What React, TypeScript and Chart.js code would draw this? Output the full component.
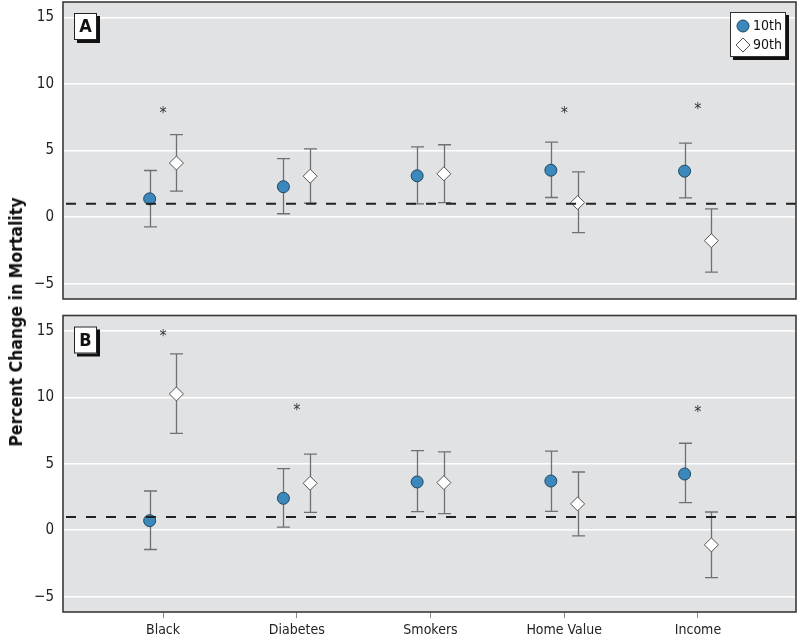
import React, { useEffect, useRef } from "react";
import { Chart, registerables } from "chart.js";

Chart.register(...registerables);

// ---------------- data ----------------
const CATEGORIES = ["Black", "Diabetes", "Smokers", "Home Value", "Income"];
const Y_TICKS = [-5, 0, 5, 10, 15];
const REF_LINE = 1;
const SERIES_NAMES = ["10th", "90th"];

// Panel A
const A_P10 = [1.37, 2.28, 3.1, 3.52, 3.45];
const A_P10_LO = [-0.74, 0.25, 0.99, 1.47, 1.45];
const A_P10_HI = [3.5, 4.39, 5.27, 5.63, 5.56];
const A_P90 = [4.06, 3.07, 3.25, 1.09, -1.77];
const A_P90_LO = [1.95, 1.04, 1.09, -1.17, -4.13];
const A_P90_HI = [6.19, 5.12, 5.43, 3.4, 0.61];
const A_STARS: (number | null)[] = [7.86, null, null, 7.86, 8.2];

// Panel B
const B_P10 = [0.72, 2.4, 3.63, 3.7, 4.23];
const B_P10_LO = [-1.45, 0.23, 1.4, 1.42, 2.07];
const B_P10_HI = [2.95, 4.63, 5.98, 5.95, 6.54];
const B_P90 = [10.25, 3.53, 3.58, 1.98, -1.1];
const B_P90_LO = [7.29, 1.35, 1.25, -0.43, -3.56];
const B_P90_HI = [13.26, 5.73, 5.9, 4.38, 1.37];
const B_STARS: (number | null)[] = [14.7, 9.1, null, null, 9.0];

// ---------------- style ----------------
const FONT = '"DejaVu Sans Condensed", "Liberation Sans Narrow", "Arial Narrow", sans-serif';
const X_MIN = 0.252;
const X_MAX = 5.733;
const Y_MIN = -6.15;
const Y_MAX = 16.15;
const OFFSET = 0.1;
const BLUE = "#3b88bd";
const BLUE_BORDER = "#24475f";
const BG = "#e1e2e4";

type PanelProps = {
  label: string;
  p10: number[];
  p10lo: number[];
  p10hi: number[];
  p90: number[];
  p90lo: number[];
  p90hi: number[];
  stars: (number | null)[];
  showX: boolean;
  showLegend: boolean;
  top: number;
  height: number;
  padTop: number;
  padBottom: number;
};

function drawCircle(ctx: CanvasRenderingContext2D, x: number, y: number, r: number) {
  ctx.beginPath();
  ctx.arc(x, y, r, 0, Math.PI * 2);
  ctx.fillStyle = BLUE;
  ctx.fill();
  ctx.strokeStyle = BLUE_BORDER;
  ctx.lineWidth = 1;
  ctx.stroke();
}

function drawDiamond(ctx: CanvasRenderingContext2D, x: number, y: number, r: number) {
  ctx.beginPath();
  ctx.moveTo(x - r, y);
  ctx.lineTo(x, y - r);
  ctx.lineTo(x + r, y);
  ctx.lineTo(x, y + r);
  ctx.closePath();
  ctx.fillStyle = "#ffffff";
  ctx.fill();
  ctx.strokeStyle = "#555";
  ctx.lineWidth = 1;
  ctx.stroke();
}

function makePlugin(p: PanelProps) {
  return {
    id: "panelDeco",
    beforeDraw(chart: any) {
      const { ctx, chartArea: a } = chart;
      ctx.save();
      ctx.fillStyle = BG;
      ctx.fillRect(a.left, a.top, a.right - a.left, a.bottom - a.top);
      ctx.restore();
    },
    beforeDatasetsDraw(chart: any) {
      const { ctx } = chart;
      const xs = chart.scales.x;
      const ys = chart.scales.y;
      ctx.save();
      ctx.strokeStyle = "#707070";
      ctx.lineWidth = 1.3;
      const groups = [
        { off: -OFFSET, lo: p.p10lo, hi: p.p10hi },
        { off: OFFSET, lo: p.p90lo, hi: p.p90hi },
      ];
      groups.forEach((g) => {
        CATEGORIES.forEach((_, i) => {
          const x = Math.round(xs.getPixelForValue(i + 1 + g.off)) + 0.5;
          const y1 = ys.getPixelForValue(g.lo[i]);
          const y2 = ys.getPixelForValue(g.hi[i]);
          ctx.beginPath();
          ctx.moveTo(x, y1);
          ctx.lineTo(x, y2);
          ctx.moveTo(x - 6.5, y1);
          ctx.lineTo(x + 6.5, y1);
          ctx.moveTo(x - 6.5, y2);
          ctx.lineTo(x + 6.5, y2);
          ctx.stroke();
        });
      });
      ctx.restore();
    },
    afterDatasetsDraw(chart: any) {
      const { ctx, chartArea: a } = chart;
      const xs = chart.scales.x;
      const ys = chart.scales.y;
      ctx.save();
      // reference dashed line
      const yr = ys.getPixelForValue(REF_LINE);
      ctx.strokeStyle = "#222";
      ctx.lineWidth = 2;
      ctx.setLineDash([10, 10]);
      ctx.beginPath();
      ctx.moveTo(a.left + 3, yr);
      ctx.lineTo(a.right, yr);
      ctx.stroke();
      ctx.setLineDash([]);

      // significance stars
      ctx.fillStyle = "#333";
      ctx.font = `16px ${FONT}`;
      ctx.textAlign = "center";
      ctx.textBaseline = "alphabetic";
      p.stars.forEach((s, i) => {
        if (s == null) return;
        const x = xs.getPixelForValue(i + 1);
        const y = ys.getPixelForValue(s);
        ctx.fillText("*", x, y + 6);
      });

      // border
      ctx.strokeStyle = "#3a3a3a";
      ctx.lineWidth = 1.6;
      ctx.strokeRect(a.left, a.top, a.right - a.left, a.bottom - a.top);

      // panel label box
      const bx = a.left + 11;
      const by = a.top + 11;
      const bw = 23;
      const bh = 27;
      ctx.fillStyle = "#111";
      ctx.fillRect(bx + 3, by + 3, bw, bh);
      ctx.fillStyle = "#fff";
      ctx.fillRect(bx, by, bw, bh);
      ctx.strokeStyle = "#222";
      ctx.lineWidth = 1;
      ctx.strokeRect(bx + 0.5, by + 0.5, bw - 1, bh - 1);
      ctx.fillStyle = "#111";
      ctx.font = `bold 18px ${FONT}`;
      ctx.textAlign = "center";
      ctx.textBaseline = "middle";
      ctx.fillText(p.label, bx + bw / 2, by + bh / 2 + 1);

      // legend
      if (p.showLegend) {
        const lx = a.right - 66;
        const ly = a.top + 10;
        const lw = 56;
        const lh = 45;
        ctx.fillStyle = "#111";
        ctx.fillRect(lx + 3, ly + 3, lw, lh);
        ctx.fillStyle = "#fff";
        ctx.fillRect(lx, ly, lw, lh);
        ctx.strokeStyle = "#333";
        ctx.lineWidth = 1;
        ctx.strokeRect(lx + 0.5, ly + 0.5, lw - 1, lh - 1);
        drawCircle(ctx, lx + 13, ly + 14, 6);
        drawDiamond(ctx, lx + 13, ly + 33, 7);
        ctx.fillStyle = "#111";
        ctx.font = `14px ${FONT}`;
        ctx.textAlign = "left";
        ctx.textBaseline = "middle";
        ctx.fillText(SERIES_NAMES[0], lx + 23, ly + 14);
        ctx.fillText(SERIES_NAMES[1], lx + 23, ly + 33);
      }
      ctx.restore();
    },
  };
}

function Panel(p: PanelProps) {
  const ref = useRef<HTMLCanvasElement | null>(null);
  useEffect(() => {
    const canvas = ref.current;
    if (!canvas) return;
    const chart = new Chart(canvas, {
      type: "scatter",
      data: {
        datasets: [
          {
            label: SERIES_NAMES[0],
            data: p.p10.map((v, i) => ({ x: i + 1 - OFFSET, y: v })),
            pointStyle: "circle",
            pointRadius: 6,
            backgroundColor: BLUE,
            borderColor: BLUE_BORDER,
            borderWidth: 1,
          },
          {
            label: SERIES_NAMES[1],
            data: p.p90.map((v, i) => ({ x: i + 1 + OFFSET, y: v })),
            pointStyle: "rectRot",
            pointRadius: 7,
            backgroundColor: "#ffffff",
            borderColor: "#555",
            borderWidth: 1,
          },
        ],
      },
      options: {
        animation: false,
        responsive: false,
        maintainAspectRatio: false,
        layout: { autoPadding: false, padding: { left: 0, right: 4, top: p.padTop, bottom: p.padBottom } },
        plugins: { legend: { display: false }, tooltip: { enabled: false } },
        scales: {
          x: {
            type: "linear",
            display: p.showX,
            min: X_MIN,
            max: X_MAX,
            afterBuildTicks: (s: any) => {
              s.ticks = CATEGORIES.map((_, i) => ({ value: i + 1 }));
            },
            afterFit: (s: any) => {
              s.height = p.showX ? 32 : 0;
              s.paddingLeft = 0;
              s.paddingRight = 0;
              s.paddingTop = 0;
              s.paddingBottom = 0;
            },
            ticks: {
              autoSkip: false,
              maxRotation: 0,
              padding: 4,
              color: "#222",
              font: { family: FONT, size: 14 },
              callback: (v: any) => CATEGORIES[Number(v) - 1] ?? "",
            },
            grid: {
              drawOnChartArea: false,
              drawTicks: true,
              tickLength: 6,
              color: "#888",
              lineWidth: 1,
            },
            border: { display: false },
          },
          y: {
            type: "linear",
            min: Y_MIN,
            max: Y_MAX,
            afterBuildTicks: (s: any) => {
              s.ticks = Y_TICKS.map((v) => ({ value: v }));
            },
            afterFit: (s: any) => {
              s.width = 63;
              s.paddingTop = 0;
              s.paddingBottom = 0;
              s.paddingLeft = 0;
              s.paddingRight = 0;
            },
            ticks: {
              padding: 9,
              color: "#222",
              font: { family: FONT, size: 15 },
              callback: (v: any) => String(v).replace("-", "\u2212"),
            },
            grid: { color: "#ffffff", lineWidth: 1.5, drawTicks: false },
            border: { display: false },
          },
        },
      },
      plugins: [makePlugin(p)],
    });
    return () => chart.destroy();
  }, []);
  return (
    <canvas
      ref={ref}
      width={800}
      height={p.height}
      style={{ position: "absolute", left: 0, top: p.top, width: 800, height: p.height, display: "block" }}
    />
  );
}

export default function App() {
  return (
    <div style={{ position: "fixed", left: 0, top: 0, width: 800, height: 644, background: "#fff", overflow: "hidden" }}>
      <Panel
        label="A"
        p10={A_P10}
        p10lo={A_P10_LO}
        p10hi={A_P10_HI}
        p90={A_P90}
        p90lo={A_P90_LO}
        p90hi={A_P90_HI}
        stars={A_STARS}
        showX={false}
        showLegend={true}
        top={0}
        height={305}
        padTop={2}
        padBottom={6}
      />
      <Panel
        label="B"
        p10={B_P10}
        p10lo={B_P10_LO}
        p10hi={B_P10_HI}
        p90={B_P90}
        p90lo={B_P90_LO}
        p90hi={B_P90_HI}
        stars={B_STARS}
        showX={true}
        showLegend={false}
        top={305}
        height={339}
        padTop={10.5}
        padBottom={0}
      />
      <div
        style={{
          position: "absolute",
          left: 16,
          top: 322,
          transform: "translate(-50%, -50%) rotate(-90deg)",
          whiteSpace: "nowrap",
          fontFamily: FONT,
          fontWeight: "bold",
          fontSize: 17.5,
          color: "#111",
        }}
      >
        Percent Change in Mortality
      </div>
    </div>
  );
}
